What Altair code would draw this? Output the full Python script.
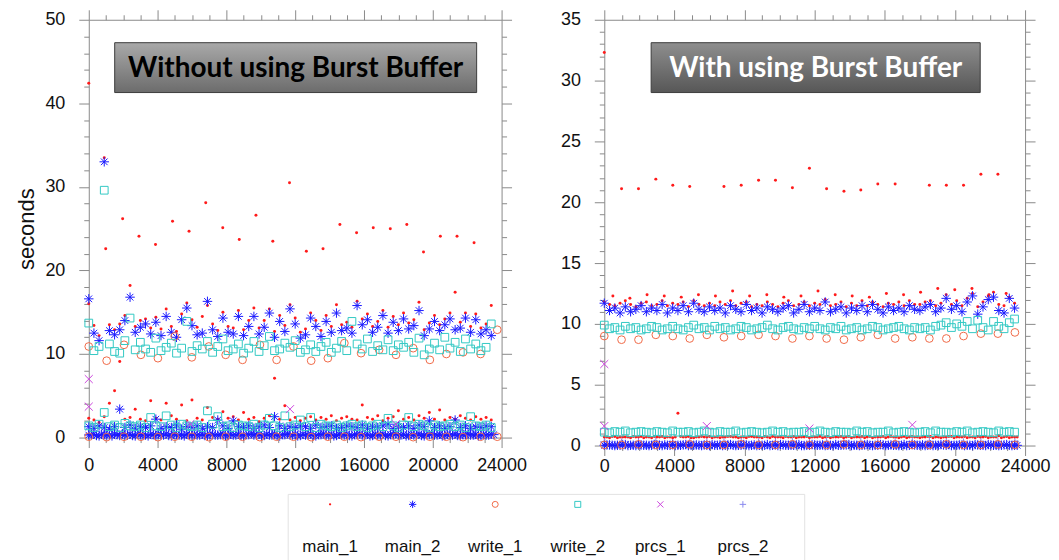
import altair as alt
import pandas as pd

SERIES = ["main_1", "main_2", "write_1", "write_2", "prcs_1", "prcs_2"]

# ---------------- x grids (model time steps) ----------------
DENSE_X = [0, 300, 600, 900, 1200, 1500, 1800, 2100, 2400, 2700,
           3000, 3300, 3600, 3900, 4200, 4500, 4800, 5100, 5400, 5700,
           6000, 6300, 6600, 6900, 7200, 7500, 7800, 8100, 8400, 8700,
           9000, 9300, 9600, 9900, 10200, 10500, 10800, 11100, 11400, 11700,
           12000, 12300, 12600, 12900, 13200, 13500, 13800, 14100, 14400, 14700,
           15000, 15300, 15600, 15900, 16200, 16500, 16800, 17100, 17400, 17700,
           18000, 18300, 18600, 18900, 19200, 19500, 19800, 20100, 20400, 20700,
           21000, 21300, 21600, 21900, 22200, 22500, 22800, 23100, 23400]
HALF_X = [150, 450, 750, 1050, 1350, 1650, 1950, 2250, 2550, 2850,
          3150, 3450, 3750, 4050, 4350, 4650, 4950, 5250, 5550, 5850,
          6150, 6450, 6750, 7050, 7350, 7650, 7950, 8250, 8550, 8850,
          9150, 9450, 9750, 10050, 10350, 10650, 10950, 11250, 11550, 11850,
          12150, 12450, 12750, 13050, 13350, 13650, 13950, 14250, 14550, 14850,
          15150, 15450, 15750, 16050, 16350, 16650, 16950, 17250, 17550, 17850,
          18150, 18450, 18750, 19050, 19350, 19650, 19950, 20250, 20550, 20850,
          21150, 21450, 21750, 22050, 22350, 22650, 22950, 23250, 23550]

# ---------------- left panel: without Burst Buffer ----------------
L_MAIN1_HIGH_X = [0, 985, 1970, 2920, 3880, 4870, 5830, 6800, 7790, 8750, 9720, 10700,
                  11670, 12650, 13620, 14600, 15570, 16540, 17530, 18490, 19460, 20440, 21410, 22400]
L_MAIN1_HIGH_Y = [42.4, 22.6, 26.2, 24.1, 23.1, 25.9, 24.7, 28.1, 25.1, 23.7, 26.6, 23.5,
                  30.5, 22.3, 22.6, 25.5, 24.5, 25.1, 25.0, 25.5, 22.2, 24.1, 24.1, 23.3]
L_MAIN1_MID = [16.0, 13.4, 12.2, 33.5, 13.5, 12.9, 13.6, 14.6, 18.2, 13.3,
               14.0, 14.2, 13.1, 14.4, 13.0, 15.4, 13.3, 12.7, 14.8, 16.1,
               14.1, 13.2, 14.5, 15.8, 13.6, 12.8, 15.0, 13.3, 13.1, 15.2,
               12.9, 14.0, 15.5, 13.1, 14.0, 15.4, 12.7, 14.6, 13.4, 15.9,
               14.3, 12.6, 13.0, 14.9, 14.0, 12.8, 14.6, 13.3, 15.9, 13.5,
               13.8, 13.2, 16.3, 14.2, 14.8, 13.3, 13.9, 15.2, 13.2, 14.5,
               13.5, 14.9, 13.7, 14.1, 16.2, 12.9, 13.7, 14.6, 13.5, 14.2,
               14.9, 17.4, 13.8, 14.9, 13.3, 14.8, 13.1, 13.6, 15.8]
L_MAIN1_LOW = [2.3, 2.1, 1.8, 2.5, 4.1, 5.6, 9.1, 2.2, 2.4, 3.4,
               2.2, 2.0, 4.4, 2.3, 2.1, 4.1, 2.6, 2.2, 3.9, 2.0,
               4.5, 2.3, 2.1, 3.6, 2.4, 2.2, 3.1, 2.3, 2.5, 2.1,
               3.0, 2.2, 2.4, 1.9, 2.3, 2.6, 7.1, 2.2, 3.8, 2.1,
               2.4, 2.0, 2.3, 2.5, 2.1, 2.4, 2.2, 2.6, 2.0, 2.3,
               2.5, 2.2, 2.1, 3.9, 2.4, 2.2, 2.6, 2.0, 2.3, 2.5,
               3.2, 2.2, 2.4, 2.1, 2.6, 2.3, 3.0, 2.2, 3.3, 2.1,
               2.4, 2.2, 2.6, 2.3, 2.1, 2.5, 2.2, 2.4, 2.1]
L_MAIN2_MID = [16.6, 12.5, 11.6, 33.0, 12.8, 12.3, 12.9, 14.0, 16.8, 12.6,
               13.2, 13.6, 12.4, 13.8, 12.2, 14.5, 12.6, 12.0, 14.1, 15.5,
               13.4, 12.3, 12.5, 16.3, 12.9, 12.1, 14.3, 12.6, 12.4, 14.5,
               12.2, 13.3, 14.5, 12.4, 13.2, 14.9, 12.0, 13.9, 12.7, 15.4,
               13.6, 11.9, 12.3, 14.3, 13.3, 12.1, 13.9, 12.6, 14.9, 12.8,
               13.1, 12.5, 15.8, 13.5, 14.1, 12.6, 13.2, 14.6, 12.5, 13.8,
               12.8, 14.2, 13.0, 13.4, 15.2, 12.2, 13.0, 13.9, 12.8, 13.5,
               14.2, 12.9, 13.1, 14.3, 12.6, 14.1, 12.4, 12.9, 12.2]
L_MAIN2_LOW1 = [1.3, 1.1, 1.4, 1.2, 1.0, 1.3, 3.4, 1.2, 1.5, 1.1,
                1.3, 1.2, 1.4, 2.2, 1.1, 1.3, 1.2, 1.5, 1.0, 1.3,
                1.2, 1.4, 1.1, 1.3, 1.2, 2.1, 1.4, 1.1, 2.0, 1.3,
                1.2, 1.4, 1.1, 1.3, 1.5, 1.2, 2.5, 1.4, 1.1, 1.3,
                1.2, 1.4, 1.3, 1.1, 1.5, 1.2, 1.3, 1.4, 1.1, 1.2,
                1.4, 1.3, 1.2, 1.5, 1.1, 1.3, 1.2, 1.4, 1.6, 1.1,
                1.3, 1.2, 1.4, 1.1, 1.5, 1.3, 2.0, 1.2, 1.4, 1.1,
                1.3, 2.1, 1.2, 1.4, 1.1, 1.3, 1.2, 1.4, 1.3]
L_MAIN2_LOW0 = [0.3, 0.4, 0.2, 0.35, 0.3, 0.45, 0.25, 0.3, 0.4, 0.2,
                0.35, 0.3, 0.4, 0.25, 0.3, 0.45, 0.2, 0.35, 0.3, 0.4,
                0.25, 0.3, 0.4, 0.2, 0.35, 0.3, 0.45, 0.25, 0.3, 0.4,
                0.2, 0.35, 0.3, 0.4, 0.25, 0.3, 0.45, 0.2, 0.35, 0.3,
                0.4, 0.25, 0.3, 0.45, 0.2, 0.35, 0.3, 0.4, 0.25, 0.3,
                0.45, 0.2, 0.35, 0.3, 0.4, 0.25, 0.3, 0.45, 0.2, 0.35,
                0.3, 0.4, 0.25, 0.3, 0.45, 0.2, 0.35, 0.3, 0.4, 0.25,
                0.3, 0.45, 0.2, 0.35, 0.3, 0.4, 0.25, 0.3, 0.4]
L_MAIN2_LOW0_HALF = [0.35, 0.25, 0.4, 0.3, 0.2, 0.35, 0.45, 0.3, 0.25, 0.4,
                     0.3, 0.2, 0.35, 0.45, 0.3, 0.25, 0.4, 0.3, 0.2, 0.35,
                     0.4, 0.3, 0.25, 0.45, 0.3, 0.35, 0.2, 0.4, 0.3, 0.25,
                     0.35, 0.45, 0.3, 0.2, 0.4, 0.3, 0.25, 0.35, 0.45, 0.3,
                     0.2, 0.4, 0.3, 0.25, 0.35, 0.45, 0.3, 0.2, 0.4, 0.3,
                     0.25, 0.35, 0.45, 0.3, 0.2, 0.4, 0.3, 0.25, 0.35, 0.45,
                     0.3, 0.2, 0.4, 0.3, 0.25, 0.35, 0.45, 0.3, 0.2, 0.4,
                     0.3, 0.25, 0.35, 0.45, 0.3, 0.2, 0.4, 0.3, 0.35]
L_WRITE1_X = [0, 1040, 2050, 3030, 4020, 5000, 5990, 6980, 7960, 8940, 9950, 10920, 11900,
              12930, 13900, 14860, 15830, 16880, 17860, 18860, 19830, 20790, 21760, 22780, 23750]
L_WRITE1_MID = [10.9, 9.2, 11.1, 9.9, 9.5, 12.1, 9.6, 10.9, 9.9, 9.3, 11.1, 9.3, 10.9,
                9.2, 9.5, 11.3, 10.1, 10.5, 9.9, 10.7, 9.3, 10.0, 10.2, 10.0, 12.9]
L_WRITE1_LOW = [0.1, 0.05, 0.1, 0.1, 0.05, 0.1, 0.1, 0.05, 0.1, 0.1, 0.05, 0.1, 0.1,
                0.05, 0.1, 0.1, 0.05, 0.1, 0.1, 0.05, 0.1, 0.1, 0.05, 0.1, 0.1]
L_WRITE2_MID = [13.7, 10.4, 10.9, 29.6, 11.2, 10.3, 10.1, 11.6, 14.3, 10.5,
                11.4, 10.6, 10.2, 11.9, 10.4, 10.8, 11.3, 10.1, 10.7, 13.9,
                10.3, 11.0, 10.6, 11.5, 10.2, 10.9, 11.8, 10.4, 10.6, 11.2,
                10.1, 10.7, 11.5, 10.3, 11.0, 12.1, 10.4, 10.6, 11.3, 10.8,
                11.6, 10.2, 10.5, 11.1, 10.3, 10.9, 11.4, 10.2, 10.7, 11.5,
                10.4, 13.9, 11.2, 10.6, 11.8, 10.3, 11.0, 10.5, 11.7, 10.4,
                11.1, 10.8, 11.4, 10.2, 11.9, 9.9, 10.6, 11.3, 10.5, 12.0,
                10.7, 11.4, 10.3, 11.8, 10.6, 11.2, 10.4, 10.8, 13.6]
L_WRITE2_LOW = [1.4, 1.2, 1.6, 3.0, 1.3, 1.5, 1.2, 1.7, 1.4, 1.3,
                1.5, 1.2, 2.4, 1.4, 1.3, 2.6, 1.5, 1.2, 1.6, 1.4,
                1.3, 1.5, 1.2, 3.2, 1.6, 2.5, 1.3, 1.4, 1.2, 1.5,
                1.4, 1.3, 1.6, 1.2, 1.5, 2.3, 1.4, 1.2, 2.6, 1.3,
                1.5, 2.1, 1.3, 2.4, 1.2, 1.6, 1.4, 1.3, 1.5, 1.2,
                1.4, 1.6, 1.3, 1.5, 1.2, 1.4, 1.6, 1.3, 2.3, 1.4,
                1.2, 1.5, 2.4, 1.3, 1.6, 1.4, 1.2, 1.5, 1.3, 1.4,
                1.6, 1.3, 1.5, 1.2, 2.5, 1.4, 1.3, 1.5, 1.2]
L_PRCS1_X = [0, 0, 5900, 11700, 17850]
L_PRCS1_Y = [7.0, 3.7, 1.6, 3.4, 1.6]
L_PRCS2_Y = [0.4, 0.35, 0.45, 0.4, 0.3, 0.4, 0.45, 0.35, 0.4, 0.4, 0.3, 0.45,
             0.4, 0.35, 0.4, 0.45, 0.4, 0.3, 0.4, 0.35, 0.45, 0.4, 0.4, 0.35]

# ---------------- right panel: with Burst Buffer ----------------
R_MAIN1_HIGH_X = [0, 985, 1950, 2940, 3907, 4873, 6825, 7810, 8800, 9765, 10730,
                  11700, 12680, 13670, 14630, 15600, 16590, 18540, 19510, 20490, 21480, 22450]
R_MAIN1_HIGH_Y = [32.3, 21.1, 21.1, 21.9, 21.4, 21.3, 21.3, 21.4, 21.8, 21.8, 21.2,
                  22.8, 21.1, 20.9, 21.0, 21.5, 21.5, 21.4, 21.4, 21.4, 22.3, 22.3]
R_MAIN1_TOP_X = [490, 1460, 2440, 3420, 4390, 5370, 6340, 7320, 8290, 9270, 10240, 11220,
                 12190, 13170, 14140, 15120, 16090, 17070, 18040, 19020, 19990, 20970, 21940, 22920]
R_MAIN1_TOP_Y = [12.3, 12.1, 12.4, 12.3, 12.2, 12.4, 12.3, 12.7, 12.3, 12.4, 12.2, 12.3,
                 12.7, 12.4, 12.3, 12.2, 12.5, 12.4, 12.6, 12.9, 12.8, 12.9, 12.4, 12.5]
R_MAIN1_MID = [11.8, 11.6, 11.5, 11.7, 11.9, 11.6, 11.4, 11.7, 11.8, 11.5,
               11.6, 11.9, 11.5, 11.7, 11.6, 11.8, 11.4, 11.9, 11.6, 11.5,
               11.7, 11.5, 11.8, 11.6, 11.9, 11.5, 11.7, 11.8, 11.4, 11.6,
               11.5, 11.8, 11.6, 11.4, 11.7, 11.9, 11.5, 11.6, 11.8, 11.5,
               11.7, 11.6, 12.0, 11.5, 11.6, 11.8, 11.4, 11.7, 11.5, 11.9,
               11.5, 11.8, 11.6, 11.4, 11.7, 11.6, 11.8, 11.5, 11.9, 11.6,
               11.6, 11.8, 11.9, 11.5, 11.7, 12.4, 11.6, 11.9, 11.5, 12.1,
               12.5, 11.4, 11.8, 12.3, 12.6, 11.6, 11.5, 12.2, 11.7]
R_MAIN1_LOW = [0.7, 0.65, 0.75, 0.7, 0.7, 0.65, 0.7, 0.75, 0.7, 0.65,
               0.7, 0.75, 0.7, 0.65, 2.65, 0.7, 0.75, 0.65, 0.7, 0.7,
               0.75, 0.7, 0.65, 0.7, 0.75, 0.7, 0.7, 0.65, 0.75, 0.7,
               0.65, 0.7, 0.75, 0.7, 0.65, 0.7, 0.75, 0.7, 0.7, 0.65,
               0.7, 0.75, 0.7, 0.65, 0.7, 0.75, 0.7, 0.65, 0.7, 0.75,
               0.7, 0.65, 0.7, 0.75, 0.7, 0.7, 0.65, 0.75, 0.7, 0.7,
               0.65, 0.7, 0.75, 0.7, 0.65, 0.7, 0.75, 0.7, 0.7, 0.65,
               0.7, 0.75, 0.7, 0.65, 0.7, 0.8, 0.7, 0.65, 0.7]
R_MAIN1_LOW_HALF = [0.7, 0.75, 0.65, 0.7, 0.7, 0.75, 0.7, 0.65, 0.7, 0.75,
                    0.7, 0.65, 0.7, 0.7, 0.75, 0.7, 0.65, 0.7, 0.75, 0.7,
                    0.65, 0.7, 0.7, 0.75, 0.7, 0.65, 0.7, 0.75, 0.7, 0.7,
                    0.75, 0.65, 0.7, 0.7, 0.75, 0.7, 0.65, 0.7, 0.75, 0.7,
                    0.7, 0.65, 0.75, 0.7, 0.7, 0.65, 0.75, 0.7, 0.7, 0.65,
                    0.75, 0.7, 0.7, 0.65, 0.75, 0.7, 0.7, 0.65, 0.75, 0.7,
                    0.7, 0.75, 0.65, 0.7, 0.7, 0.75, 0.65, 0.7, 0.75, 0.7,
                    0.65, 0.7, 0.75, 0.7, 0.7, 0.65, 0.75, 0.7, 0.7]
R_MAIN2_MID = [11.7, 11.1, 11.3, 10.9, 11.4, 11.0, 11.2, 11.5, 11.0, 11.3,
               11.1, 11.6, 10.9, 11.3, 11.1, 11.5, 11.0, 11.7, 11.2, 11.0,
               11.4, 11.1, 11.3, 10.9, 11.5, 11.2, 11.0, 11.6, 11.1, 11.3,
               10.9, 11.4, 11.2, 11.0, 11.3, 11.5, 10.9, 11.2, 11.6, 11.0,
               11.3, 11.1, 11.8, 11.0, 11.2, 11.4, 10.9, 11.3, 11.1, 11.5,
               11.0, 11.6, 11.2, 10.9, 11.4, 11.1, 11.3, 11.0, 11.5, 11.2,
               11.1, 11.4, 11.6, 11.0, 11.3, 12.1, 11.2, 11.5, 11.0, 11.8,
               12.3, 10.8, 11.4, 12.0, 12.2, 11.1, 10.9, 12.1, 11.3]
R_MAIN2_LOW = [0.02, 0.05, 0.0, 0.02, 0.08, 0.02, 0.0, 0.05, 0.02, 0.02,
               0.05, 0.0, 0.02, 0.08, 0.02, 0.05, 0.0, 0.02, 0.02, 0.05,
               0.0, 0.02, 0.05, 0.02, 0.08, 0.0, 0.02, 0.05, 0.02, 0.0,
               0.02, 0.08, 0.02, 0.0, 0.05, 0.02, 0.02, 0.08, 0.0, 0.02,
               0.05, 0.02, 0.0, 0.02, 0.08, 0.02, 0.05, 0.0, 0.02, 0.02,
               0.08, 0.0, 0.02, 0.05, 0.02, 0.02, 0.0, 0.08, 0.02, 0.05,
               0.02, 0.0, 0.05, 0.02, 0.08, 0.02, 0.0, 0.02, 0.05, 0.02,
               0.0, 0.05, 0.02, 0.08, 0.02, 0.0, 0.05, 0.02, 0.02]
R_MAIN2_LOW_HALF = [0.05, 0.02, 0.02, 0.08, 0.0, 0.02, 0.05, 0.02, 0.0, 0.08,
                    0.02, 0.05, 0.02, 0.0, 0.02, 0.08, 0.02, 0.05, 0.0, 0.02,
                    0.08, 0.02, 0.0, 0.05, 0.02, 0.02, 0.08, 0.0, 0.05, 0.02,
                    0.02, 0.0, 0.05, 0.08, 0.02, 0.02, 0.05, 0.0, 0.02, 0.08,
                    0.02, 0.05, 0.02, 0.0, 0.02, 0.05, 0.08, 0.02, 0.0, 0.05,
                    0.02, 0.02, 0.08, 0.0, 0.05, 0.02, 0.02, 0.0, 0.08, 0.02,
                    0.05, 0.02, 0.0, 0.02, 0.05, 0.08, 0.02, 0.05, 0.0, 0.02,
                    0.08, 0.02, 0.0, 0.05, 0.02, 0.02, 0.08, 0.0, 0.02]
R_WRITE1_X = [0, 985, 1950, 2940, 3907, 4873, 5850, 6825, 7810, 8800, 9765, 10730, 11700,
              12680, 13670, 14630, 15600, 16590, 17570, 18540, 19510, 20490, 21480, 22450, 23420]
R_WRITE1_MID = [9.0, 8.7, 8.7, 9.1, 9.0, 8.8, 9.1, 8.9, 9.0, 9.1, 9.0, 8.8, 9.0,
                8.8, 8.7, 8.9, 9.1, 8.8, 8.9, 8.8, 8.8, 9.0, 9.2, 9.2, 9.3]
R_WRITE1_LOW = [0.05, 0.05, 0.1, 0.05, 0.05, 0.1, 0.05, 0.05, 0.1, 0.05, 0.05, 0.1, 0.05,
                0.05, 0.1, 0.05, 0.05, 0.1, 0.05, 0.05, 0.1, 0.05, 0.05, 0.1, 0.05]
R_WRITE2_MID = [9.9, 9.6, 9.7, 9.5, 9.8, 9.6, 9.7, 9.5, 9.6, 9.8,
                9.7, 9.5, 9.6, 9.8, 9.6, 9.5, 9.7, 9.9, 9.6, 9.7,
                9.5, 9.8, 9.6, 9.7, 9.5, 9.6, 9.8, 9.7, 9.5, 9.6,
                9.7, 9.9, 9.6, 9.5, 9.7, 9.8, 9.6, 9.5, 9.7, 9.6,
                9.8, 9.6, 9.5, 9.7, 9.6, 9.8, 9.5, 9.6, 9.7, 9.5,
                9.6, 9.8, 9.7, 9.5, 9.6, 9.7, 9.8, 9.6, 9.5, 9.7,
                9.6, 9.7, 9.5, 9.8, 9.9, 10.1, 9.7, 10.0, 9.8, 10.2,
                9.6, 10.3, 9.7, 9.5, 10.2, 9.8, 9.6, 10.1, 10.4]
R_WRITE2_LOW = [1.1, 1.05, 1.15, 1.1, 1.2, 1.05, 1.1, 1.15, 1.1, 1.05,
                1.15, 1.1, 1.05, 1.2, 1.1, 1.1, 1.15, 1.05, 1.1, 1.2,
                1.1, 1.05, 1.15, 1.1, 1.1, 1.2, 1.05, 1.1, 1.15, 1.1,
                1.05, 1.1, 1.2, 1.1, 1.15, 1.05, 1.1, 1.1, 1.15, 1.05,
                1.1, 1.2, 1.1, 1.05, 1.15, 1.1, 1.1, 1.05, 1.2, 1.1,
                1.15, 1.05, 1.1, 1.1, 1.2, 1.05, 1.1, 1.15, 1.1, 1.05,
                1.1, 1.15, 1.05, 1.2, 1.1, 1.1, 1.05, 1.15, 1.1, 1.2,
                1.05, 1.1, 1.15, 1.1, 1.05, 1.2, 1.1, 1.15, 1.1]
R_PRCS1_X = [0, 0, 5850, 11700, 17570]
R_PRCS1_Y = [6.7, 1.6, 1.6, 1.4, 1.7]
R_PRCS2_Y = [0.3, 0.25, 0.3, 0.35, 0.3, 0.25, 0.3, 0.3, 0.35, 0.25, 0.3, 0.3, 0.25,
             0.3, 0.35, 0.3, 0.25, 0.3, 0.3, 0.35, 0.3, 0.25, 0.3, 0.3, 0.35]

# axis tick values
X_MAJOR = [0, 4000, 8000, 12000, 16000, 20000, 24000]
X_MINOR = [1000, 2000, 3000, 5000, 6000, 7000, 9000, 10000, 11000, 13000, 14000, 15000,
           17000, 18000, 19000, 21000, 22000, 23000]
L_Y_MAJOR = [0, 10, 20, 30, 40, 50]
L_Y_MINOR = [2, 4, 6, 8, 12, 14, 16, 18, 22, 24, 26, 28, 32, 34, 36, 38, 42, 44, 46, 48]
R_Y_MAJOR = [0, 5, 10, 15, 20, 25, 30, 35]
R_Y_MINOR = [1, 2, 3, 4, 6, 7, 8, 9, 11, 12, 13, 14, 16, 17, 18, 19, 21, 22, 23, 24,
             26, 27, 28, 29, 31, 32, 33, 34]

# ---------------- styles ----------------
ASTERISK = "M-1,0L1,0M0,-1L0,1M-0.7,-0.7L0.7,0.7M-0.7,0.7L0.7,-0.7"
XMARK = "M-0.8,-0.8L0.8,0.8M-0.8,0.8L0.8,-0.8"
PLUS = "M-1,0L1,0M0,-1L0,1"
STYLE = {
    "main_1": dict(shape="circle", filled=True, size=9, color="#ff1a1a"),
    "main_2": dict(shape=ASTERISK, filled=False, size=90, color="#1a1aff"),
    "write_1": dict(shape="circle", filled=False, size=60, color="#f06a48"),
    "write_2": dict(shape="square", filled=False, size=60, color="#33c9c4"),
    "prcs_1": dict(shape=XMARK, filled=False, size=100, color="#cc44dd"),
    "prcs_2": dict(shape=PLUS, filled=False, size=70, color="#8a8aee"),
}
DRAW_ORDER = ["prcs_2", "main_1", "main_2", "write_1", "write_2", "prcs_1"]
FONT = "Liberation Sans"


def rows(series, xs, ys):
    if len(xs) != len(ys):
        raise ValueError(f"{series}: {len(xs)} x vs {len(ys)} y")
    return [{"x": a, "y": b, "series": series} for a, b in zip(xs, ys)]


left_df = pd.DataFrame(
    rows("main_1", L_MAIN1_HIGH_X, L_MAIN1_HIGH_Y) + rows("main_1", DENSE_X, L_MAIN1_MID)
    + rows("main_1", DENSE_X, L_MAIN1_LOW)
    + rows("main_2", DENSE_X, L_MAIN2_MID) + rows("main_2", DENSE_X, L_MAIN2_LOW1)
    + rows("main_2", DENSE_X, L_MAIN2_LOW0) + rows("main_2", HALF_X, L_MAIN2_LOW0_HALF)
    + rows("write_1", L_WRITE1_X, L_WRITE1_MID) + rows("write_1", L_WRITE1_X, L_WRITE1_LOW)
    + rows("write_2", DENSE_X, L_WRITE2_MID) + rows("write_2", DENSE_X, L_WRITE2_LOW)
    + rows("prcs_1", L_PRCS1_X, L_PRCS1_Y) + rows("prcs_2", L_MAIN1_HIGH_X, L_PRCS2_Y)
)
right_df = pd.DataFrame(
    rows("main_1", R_MAIN1_HIGH_X, R_MAIN1_HIGH_Y) + rows("main_1", R_MAIN1_TOP_X, R_MAIN1_TOP_Y)
    + rows("main_1", DENSE_X, R_MAIN1_MID) + rows("main_1", DENSE_X, R_MAIN1_LOW)
    + rows("main_1", HALF_X, R_MAIN1_LOW_HALF)
    + rows("main_2", DENSE_X, R_MAIN2_MID) + rows("main_2", DENSE_X, R_MAIN2_LOW)
    + rows("main_2", HALF_X, R_MAIN2_LOW_HALF)
    + rows("write_1", R_WRITE1_X, R_WRITE1_MID) + rows("write_1", R_WRITE1_X, R_WRITE1_LOW)
    + rows("write_2", DENSE_X, R_WRITE2_MID) + rows("write_2", DENSE_X, R_WRITE2_LOW)
    + rows("prcs_1", R_PRCS1_X, R_PRCS1_Y) + rows("prcs_2", R_WRITE1_X, R_PRCS2_Y)
)

AX = dict(domain=False, grid=False, tickColor="#8a8a8a", tickWidth=1,
          labelFont=FONT, labelFontSize=18, labelColor="#111111",
          labelFlush=False, labelOverlap=False)


def panel(df, ymax, y_major, y_minor, w, h, xpad, ytitle, label, label_color, stops, box):
    xs = alt.Scale(domain=[0, 24000], nice=False, zero=False)
    ys = alt.Scale(domain=[0, ymax], nice=False, zero=False)
    layers = []
    for s in DRAW_ORDER:
        st = STYLE[s]
        layers.append(
            alt.Chart(df).transform_filter(alt.datum.series == s)
            .mark_point(shape=st["shape"], filled=st["filled"], size=st["size"],
                        color=st["color"], strokeWidth=1, opacity=1)
            .encode(x=alt.X("x:Q", scale=xs, axis=None), y=alt.Y("y:Q", scale=ys, axis=None))
        )

    def axis_layer(xaxis, yaxis):
        return alt.Chart(df).mark_point(opacity=0).encode(
            x=alt.X("x:Q", scale=xs, axis=xaxis), y=alt.Y("y:Q", scale=ys, axis=yaxis))

    ytitle_kw = dict(title=ytitle, titleFont=FONT, titleFontSize=22, titleFontWeight="normal",
                     titleColor="#111111", titlePadding=6) if ytitle else dict(title=None)
    layers.append(axis_layer(
        alt.Axis(orient="bottom", values=X_MAJOR, format="d", tickSize=10, labelPadding=xpad,
                 title=None, **AX),
        alt.Axis(orient="left", values=y_major, format="d", tickSize=10, labelPadding=14,
                 **ytitle_kw, **AX)))
    layers.append(axis_layer(
        alt.Axis(orient="bottom", values=X_MINOR, tickSize=5, labels=False, title=None, **AX),
        alt.Axis(orient="left", values=y_minor, tickSize=5, labels=False, title=None, **AX)))
    layers.append(axis_layer(
        alt.Axis(orient="top", values=X_MAJOR, tickSize=10, labels=False, title=None, **AX),
        alt.Axis(orient="right", values=y_major, tickSize=10, labels=False, title=None, **AX)))
    layers.append(axis_layer(
        alt.Axis(orient="top", values=X_MINOR, tickSize=5, labels=False, title=None, **AX),
        alt.Axis(orient="right", values=y_minor, tickSize=5, labels=False, title=None, **AX)))

    lab = pd.DataFrame({"label": [label]})
    x0, x1, y0, y1 = box
    grad = alt.Gradient(gradient="linear",
                        stops=[alt.GradientStop(color=stops[0], offset=0),
                               alt.GradientStop(color=stops[1], offset=1)],
                        x1=0, x2=0, y1=0, y2=1)
    rect = alt.Chart(lab).mark_rect(fill=grad, stroke="#3c3c3c", strokeWidth=1).encode(
        x=alt.value(x0), x2=alt.value(x1), y=alt.value(y0), y2=alt.value(y1))
    txt = alt.Chart(lab).mark_text(font="Lato", fontWeight="bold", fontSize=28,
                                   color=label_color, baseline="middle", align="center").encode(
        text="label:N", x=alt.value((x0 + x1) / 2), y=alt.value((y0 + y1) / 2 + 1))
    return alt.layer(*layers, rect, txt).resolve_axis(x="independent", y="independent").properties(
        width=w, height=h)


left = panel(left_df, 50, L_Y_MAJOR, L_Y_MINOR, 414, 419, 9, "seconds",
             "Without using Burst Buffer", "#000000", ["#a9a9a9", "#6c6c6c"], (26, 389, 23, 73))
right = panel(right_df, 35, R_Y_MAJOR, R_Y_MINOR, 422, 427, 2, None,
              "With using Burst Buffer", "#ffffff", ["#8e8e8e", "#575757"], (47, 377, 23, 73))

# ---------------- legend (row of symbols with names beneath) ----------------
LEG_LEFT = 200
leg_df = pd.DataFrame({"series": SERIES})
leg_x = alt.X("series:N", sort=SERIES, axis=None,
              scale=alt.Scale(type="point", domain=SERIES, padding=0,
                              range=[LEG_LEFT + 42, LEG_LEFT + 456]))
leg_layers = [
    alt.Chart(pd.DataFrame({"k": [0]})).mark_rect(fillOpacity=0, stroke="#e2e2e2", strokeWidth=1)
    .encode(x=alt.value(LEG_LEFT), x2=alt.value(LEG_LEFT + 518), y=alt.value(0), y2=alt.value(68))
]
for s in SERIES:
    st = STYLE[s]
    leg_layers.append(
        alt.Chart(leg_df).transform_filter(alt.datum.series == s)
        .mark_point(shape=st["shape"], filled=st["filled"], size=st["size"] * 0.6,
                    color=st["color"], strokeWidth=1, opacity=1)
        .encode(x=leg_x, y=alt.value(10)))
leg_text = alt.Chart(leg_df).mark_text(font=FONT, fontSize=17, color="#111111",
                                       baseline="middle").encode(
    x=leg_x, y=alt.value(53), text="series:N")
legend = alt.layer(*leg_layers, leg_text).properties(
    width=800, height=68, view=alt.ViewBackground(stroke="transparent"))

top = alt.hconcat(left, right, spacing=32)
chart = alt.vconcat(top, legend, spacing=17).properties(
    padding={"left": 7, "top": 0, "right": 0, "bottom": 0}
).configure_view(stroke="#8a8a8a", strokeWidth=1)

chart.save("out.html", embed_options={"renderer": "svg", "actions": False})
